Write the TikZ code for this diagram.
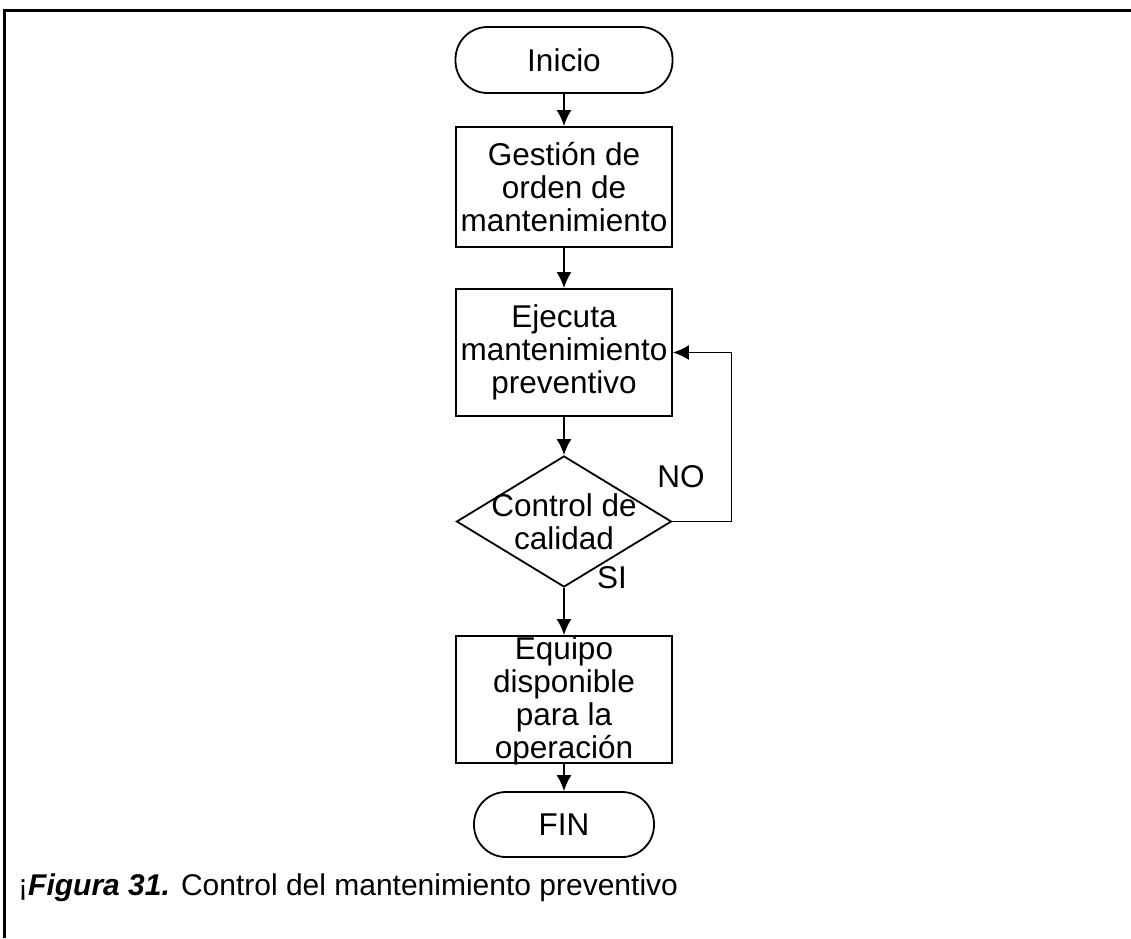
\documentclass[tikz,border=0pt]{standalone}
\usepackage{fontspec}
\setmainfont{Liberation Sans}
\usetikzlibrary{shapes.geometric,arrows.meta}
\begin{document}
\begin{tikzpicture}[x=1pt,y=-1pt,
  every node/.style={font=\fontsize{31.5}{33}\selectfont},
  line/.style={line width=1.8pt},
  flow/.style={line, -{Latex[length=16pt,width=15pt]}},
  term/.style={draw, line width=1.8pt, rounded corners=32pt, inner sep=0pt},
  proc/.style={draw, line width=1.8pt, minimum width=216pt, inner sep=0pt},
  txt/.style={align=center, inner sep=0pt},
]
\useasboundingbox (0,0) rectangle (1131,938);
\fill[white] (0,0) rectangle (1131,938);
% open frame: top and left sides only
\draw[line width=3pt] (4,938) |- (1131,10);

% flowchart shapes
\node[term, minimum width=217pt, minimum height=66pt] (ini) at (564,60) {Inicio};
\node[proc, minimum height=120pt] (gest) at (564,187) {};
\node[txt] (gesttxt) at (gest) {Gestión de\\orden de\\mantenimiento};
\node[proc, minimum height=127pt] (ejec) at (564,352.5) {};
\node[txt] (ejectxt) at (ejec) {Ejecuta\\mantenimiento\\preventivo};
\node[diamond, draw, line width=1.8pt, minimum width=215pt, minimum height=131pt, inner sep=0pt] (ctrl) at (564,521.5) {};
\node[txt] (ctrltxt) at (ctrl) {Control de\\calidad};
\node[proc, minimum height=127pt] (equi) at (564,699.5) {};
\node[txt] (equitxt) at (564,701) {Equipo\\disponible\\para la\\operación};
\node[term, minimum width=180pt, minimum height=65pt] (fin) at (564,824.5) {FIN};

% connectors
\draw[flow] (ini) -- (gest);
\draw[flow] (gest) -- (ejec);
\draw[flow] (ejec) -- (ctrl);
\draw[flow] (ctrl) -- (equi);
\draw[flow] (equi) -- (fin);
\draw[flow] (ctrl.east) -- ++(59,0) |- (ejec.east);

% branch labels
\node (no) at (681,477) {NO};
\node (si) at (612,578) {SI};

% caption
\node[anchor=base west, inner sep=0pt, font=\fontsize{30}{33}\selectfont] (cap) at (18,895)
  {¡\textbf{\textit{Figura 31.}} Control del mantenimiento preventivo};
\end{tikzpicture}
\end{document}
